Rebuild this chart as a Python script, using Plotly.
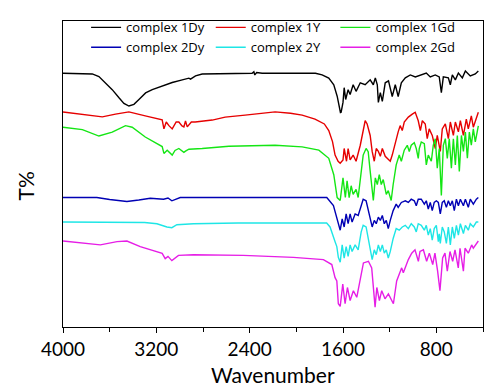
import plotly.graph_objects as go

# ---- data (wavenumber, offset transmittance) ----
wn_1dy = [4000, 3749, 3692, 3635, 3578, 3520, 3478, 3435, 3392, 3349, 3292, 3235, 3149, 3064, 2978,
          2935, 2921, 2907, 2864, 2807, 2578, 2379, 2364, 2356, 2340, 2293, 1836, 1779, 1722, 1679,
          1650, 1622, 1616, 1600, 1590, 1577, 1556, 1539, 1513, 1488, 1452, 1410, 1367, 1340, 1323,
          1306, 1297, 1280, 1263, 1238, 1210, 1178, 1152, 1127, 1100, 1066, 1023, 980, 937, 886, 852,
          809, 775, 757, 740, 697, 680, 663, 637, 611, 577, 551, 509, 466, 440]
t_1dy = [258.7, 258, 255.3, 248.7, 242, 233.7, 228, 225.3, 227, 232, 238.7, 242, 246, 249.3, 252,
         252.7, 253.7, 252.7, 256, 258, 258.7, 258.7, 260.3, 257, 259.5, 258.7, 258.7, 257, 253.7, 247,
         235.3, 218.7, 219, 229, 244, 232, 242, 237, 247, 240.3, 249, 247, 252, 247, 254,
         247, 229, 239, 230, 249, 251, 235, 247, 235, 249, 254, 257, 255, 257, 259, 255,
         257, 255, 239, 255, 254, 247, 257, 252, 259, 254, 261, 256, 258, 261]

wn_1y = [4000, 3834, 3663, 3550, 3435, 3295, 3200, 3150, 3135, 3115, 3092, 3064, 3030, 3007, 2980,
         2964, 2950, 2935, 2900, 2867, 2721, 2610, 2439, 2182, 2050, 1950, 1840, 1760, 1722, 1690,
         1668, 1642, 1624, 1600, 1590, 1570, 1556, 1539, 1513, 1488, 1452, 1435, 1410, 1393, 1367,
         1350, 1332, 1315, 1297, 1280, 1263, 1238, 1212, 1195, 1178, 1152, 1127, 1110, 1092, 1075,
         1040, 1006, 981, 955, 937, 920, 895, 878, 861, 835, 809, 792, 766, 749, 723, 697, 680, 654,
         637, 611, 594, 568, 543, 526, 500, 483, 457, 440]
t_1y = [219.3, 217, 214.3, 217, 219.3, 215.3, 213, 211.3, 202, 209, 205.3, 202, 209, 209, 205,
        204, 210, 204, 209, 209, 211, 214, 216, 219.3, 218, 216, 212, 207, 200.3, 189,
        175.3, 169, 167, 170.3, 182, 169, 182, 170.3, 175.3, 169, 185.3, 195.3, 210.3, 207, 195.3,
        179, 169, 182, 179, 174, 182, 174, 170.3, 169, 175.3, 189, 199, 205.3, 200.3, 209,
        214, 217, 219, 210.3, 200.3, 210.3, 207, 192, 202, 195.3, 182, 195.3, 179, 202, 207, 192, 209, 195.3,
        209, 199, 210.3, 195.3, 212, 202, 215.3, 203.7, 214, 219]

wn_1gd = [4000, 3834, 3692, 3578, 3464, 3407, 3295, 3178, 3150, 3135, 3107, 3064, 3040, 3007, 2964,
          2950, 2921, 2807, 2578, 2182, 1950, 1807, 1722, 1679, 1650, 1624, 1600, 1580, 1565, 1547,
          1530, 1513, 1488, 1470, 1444, 1427, 1402, 1384, 1367, 1350, 1340, 1323, 1306, 1289, 1272,
          1255, 1229, 1212, 1187, 1170, 1144, 1118, 1100, 1075, 1049, 1032, 1015, 989, 972, 955, 946,
          929, 903, 886, 869, 843, 826, 809, 792, 775, 757, 740, 723, 706, 689, 671, 654, 637, 620,
          603, 585, 568, 551, 534, 517, 500, 483, 466, 449, 440]
t_1gd = [203.7, 201.3, 194.7, 198.7, 205.3, 203.7, 193.7, 185.3, 184, 177, 180.3, 175.3, 180, 182, 178,
         179.3, 181.3, 182, 184.3, 185.3, 183.7, 180.3, 172, 155.3, 132, 129, 152, 132, 149, 132,
         144, 135.3, 140.3, 132, 162, 175.3, 182, 178.7, 159, 142, 129, 152, 145.3, 155.3, 145.3,
         150.3, 135.3, 139, 129, 145.3, 165.3, 175.3, 169, 180.3, 185.3, 179, 185.3, 188, 182, 172, 182,
         188.7, 187, 165.3, 175.3, 169, 185.3, 192, 162, 182, 134, 185.3, 192, 172, 192, 162, 192, 165.3, 195.3,
         158.7, 195.3, 179, 198.7, 172, 198.7, 185.3, 202, 188.7, 202, 205]

wn_2dy = [4000, 3710, 3600, 3452, 3350, 3252, 3138, 3100, 3067, 2995, 2910, 1739, 1682, 1653, 1624,
          1607, 1590, 1573, 1556, 1539, 1522, 1496, 1470, 1444, 1427, 1402, 1384, 1367, 1350, 1332,
          1315, 1297, 1280, 1263, 1246, 1229, 1212, 1195, 1170, 1144, 1127, 1100, 1066, 1040, 1015,
          989, 972, 955, 929, 903, 886, 869, 852, 835, 818, 800, 783, 766, 749, 732, 714, 697, 680,
          663, 646, 628, 611, 594, 568, 551, 526, 509, 483, 457, 440]
t_2dy = [132, 132, 130, 128, 129.5, 131.3, 130.3, 131.5, 128.7, 132, 132, 132, 123.7, 110.3, 98.7,
         110.3, 102, 115.3, 105.3, 115.3, 107, 115.3, 113.7, 123.7, 130.3, 128.7, 118.7, 108.7, 102, 108.7,
         105.3, 112, 108.7, 113.7, 105.3, 108.7, 100.3, 108.7, 118.7, 125.3, 122, 127, 128.7, 127, 130.3,
         128.7, 123.7, 130.3, 130.3, 125.3, 128.7, 120.3, 127, 118.7, 127, 128.7, 127, 115.3, 127, 128.7, 122, 128.7, 123.7,
         128.7, 118.7, 130.3, 123.7, 130.3, 123.7, 130.3, 122, 130.3, 125.3, 130.3, 132]

wn_2y = [4000, 3600, 3300, 3195, 3109, 3067, 3024, 2882, 2500, 1740, 1711, 1668, 1653, 1640, 1624,
         1607, 1590, 1573, 1556, 1539, 1522, 1496, 1470, 1444, 1427, 1402, 1384, 1367, 1350, 1332,
         1315, 1297, 1280, 1263, 1246, 1229, 1212, 1195, 1170, 1144, 1118, 1092, 1066, 1040, 1015,
         989, 972, 955, 929, 903, 886, 869, 852, 835, 818, 800, 783, 775, 766, 749, 732, 714, 697,
         680, 663, 646, 628, 611, 594, 568, 551, 526, 509, 483, 457, 440]
t_2y = [107, 106.5, 106.5, 105.3, 102, 101.3, 104.3, 105.3, 106, 106, 102, 87, 82, 71, 66,
        83.7, 70.3, 82, 72, 83.7, 77, 83.7, 78.7, 97, 103.7, 102, 90.3, 77, 68.7, 78.7,
        73.7, 83.7, 77, 83.7, 75.3, 78.7, 70.3, 77, 90.3, 100.3, 98.7, 102, 103.7, 100.3, 105.3,
        102, 97, 105.3, 103.7, 98.7, 103.7, 93.7, 100.3, 88.7, 100.3, 103.7, 87, 95, 85.3, 102, 97, 85.3, 102,
        83.7, 102, 90.3, 103.7, 93.7, 105.3, 95.3, 103.7, 98.7, 105.3, 102, 107, 107]

wn_2gd = [4000, 3795, 3680, 3537, 3452, 3338, 3195, 3150, 3124, 3100, 3067, 3010, 2882, 2455, 2025,
          1768, 1696, 1668, 1653, 1640, 1624, 1602, 1582, 1562, 1539, 1511, 1482, 1453, 1425, 1382,
          1354, 1325, 1310, 1288, 1268, 1240, 1211, 1168, 1140, 1097, 1083, 1040, 1011, 983, 954, 940,
          911, 883, 860, 831, 812, 789, 769, 746, 726, 706, 683, 660, 640, 612, 597, 568, 554, 526,
          497, 483, 454, 440]
t_2gd = [87.7, 85.3, 83.7, 87, 87.7, 82, 77, 75, 69.7, 72, 67.7, 73, 73.7, 73, 71,
         68.7, 63.7, 50.3, 47, 23.7, 21, 43.7, 23.7, 40.3, 27, 37, 30.3, 47, 65.3, 67,
         60.3, 20.3, 40.3, 27, 37, 28.7, 33.7, 23.7, 47, 60.3, 55.3, 68.7, 75.3, 78.7, 67, 77,
         78.7, 67, 75.3, 63.7, 75.3, 57, 37, 70.3, 75.3, 57, 77, 67, 78.7, 60.3, 80.3, 57, 80.3, 75.3,
         83.7, 80.3, 85.3, 87.7]

names = ["complex 1Dy", "complex 1Y", "complex 1Gd", "complex 2Dy", "complex 2Y", "complex 2Gd"]
colors = ["#000000", "#e60000", "#14e614", "#0000b4", "#1ee6e6", "#e61ee6"]
series = [(wn_1dy, t_1dy), (wn_1y, t_1y), (wn_1gd, t_1gd),
          (wn_2dy, t_2dy), (wn_2y, t_2y), (wn_2gd, t_2gd)]

x_ticks = [4000, 3200, 2400, 1600, 800]

fig = go.Figure()
for (xs, ys), name, col in zip(series, names, colors):
    fig.add_trace(go.Scatter(x=xs, y=ys, mode="lines", name=name,
                             line=dict(color=col, width=1.4)))

fig.update_layout(
    width=499, height=388,
    margin=dict(l=63, r=16, t=15, b=61),
    paper_bgcolor="white", plot_bgcolor="white",
    font=dict(family="Lato", color="black"),
    showlegend=True,
    legend=dict(orientation="h", x=0.055, y=1.028, xanchor="left", yanchor="top",
                bgcolor="rgba(0,0,0,0)", font=dict(size=13, family="Open Sans"),
                tracegroupgap=0),
    xaxis=dict(range=[4000, 400], tickvals=x_ticks, ticktext=[str(v) for v in x_ticks],
               ticks="outside", ticklen=5, tickwidth=1.2, tickcolor="black",
               minor=dict(dtick=400, tick0=0, ticks="outside", ticklen=4, tickcolor="black"),
               showline=True, linecolor="black", linewidth=1.3, mirror=True,
               showgrid=False, zeroline=False, tickfont=dict(size=19),
               ticklabelstandoff=0, automargin=False),
    yaxis=dict(range=[0, 312], showticklabels=False, ticks="",
               showline=True, linecolor="black", linewidth=1.3, mirror=True,
               showgrid=False, zeroline=False, automargin=False),
    annotations=[
        dict(text="T%", xref="paper", yref="paper", x=-0.09, y=0.46,
             textangle=-90, showarrow=False, font=dict(size=21, family="Lato"),
             xanchor="center", yanchor="middle"),
        dict(text="Wavenumber", xref="paper", yref="paper", x=0.5, y=-0.156,
             showarrow=False, font=dict(size=21, family="Lato"),
             xanchor="center", yanchor="middle"),
    ],
)

fig.write_html("out.html")
